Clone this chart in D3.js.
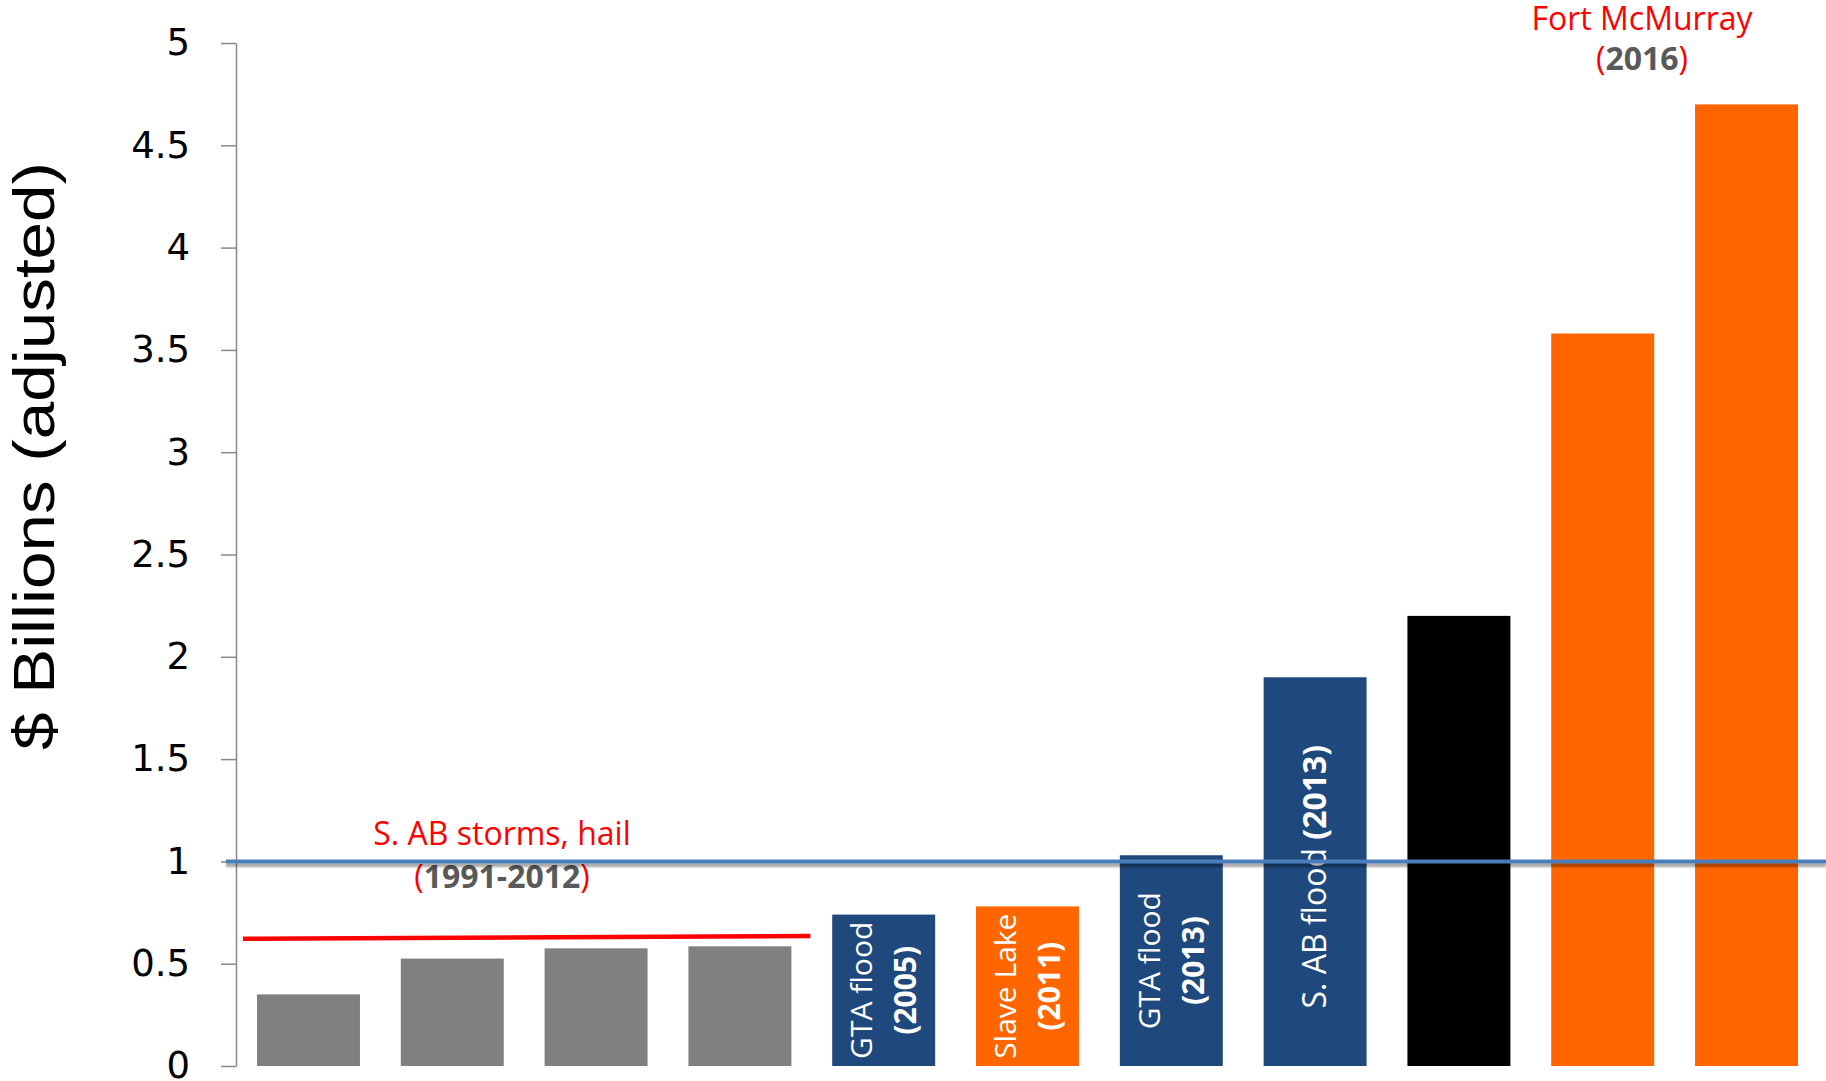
<!DOCTYPE html>
<html>
<head>
<meta charset="utf-8">
<script src="https://cdn.jsdelivr.net/npm/d3@7"></script>
<style>
  body { margin: 0; background: #fff; }
  svg { display: block; }
</style>
</head>
<body>
<div id="chart"></div>
<script>
const width = 1826;
const height = 1081;

// one bar per loss event, left to right
const categories = [
  "S. AB storms A", "S. AB storms B", "S. AB storms C", "S. AB storms D",
  "GTA flood 2005", "Slave Lake 2011", "GTA flood 2013", "S. AB flood 2013",
  "Other event", "Fort McMurray low", "Fort McMurray 2016"
];
const values = [0.35, 0.525, 0.575, 0.585, 0.74, 0.78, 1.03, 1.9, 2.2, 3.58, 4.7];
const barColors = [
  "#808080", "#808080", "#808080", "#808080",
  "#1f497d", "#ff6600", "#1f497d", "#1f497d",
  "#000000", "#ff6600", "#ff6600"
];
// [name, year] labels written up the bar
const barNames = ["", "", "", "", "GTA flood", "Slave Lake", "GTA flood", "S. AB flood ", "", "", ""];
const barYears = ["", "", "", "", "(2005)", "(2011)", "(2013)", "(2013)", "", "", ""];
const twoLine = [false, false, false, false, true, true, true, false, false, false, false];

const yTicks = [0, 0.5, 1, 1.5, 2, 2.5, 3, 3.5, 4, 4.5, 5];
const refValue = 1;              // blue $1B line
const stormLine = [0.622, 0.635]; // red average line over the hail bars

const margin = { left: 236, top: 43, bottom: 15 };

const svg = d3.select("#chart").append("svg")
  .attr("width", width)
  .attr("height", height);

const defs = svg.append("defs");
defs.append("filter").attr("id", "blur")
  .attr("filterUnits", "userSpaceOnUse")
  .attr("x", 0).attr("y", 0).attr("width", width).attr("height", height)
  .append("feGaussianBlur").attr("stdDeviation", 1.3);

const x = d3.scaleBand()
  .domain(categories)
  .range([margin.left, 1819])
  .paddingInner(0.284)
  .paddingOuter(0.146);

const y = d3.scaleLinear()
  .domain([0, 5])
  .range([height - margin.bottom, margin.top]);

// y axis
const yAxis = svg.append("g")
  .attr("transform", `translate(${margin.left},0)`)
  .call(d3.axisLeft(y).tickValues(yTicks).tickFormat(d3.format("")).tickSize(15).tickSizeOuter(0).tickPadding(31));
yAxis.select(".domain").attr("stroke", "#898989").attr("stroke-width", 1.5);
yAxis.selectAll(".tick line").attr("stroke", "#898989").attr("stroke-width", 1.5);
yAxis.selectAll(".tick text")
  .attr("fill", "#000")
  .style("font-family", "'DejaVu Sans', Verdana, sans-serif")
  .style("font-size", "37px");

svg.append("text")
  .attr("transform", "translate(54,456) rotate(-90)")
  .attr("text-anchor", "middle")
  .attr("textLength", 588)
  .attr("lengthAdjust", "spacingAndGlyphs")
  .style("font-family", "'Liberation Sans', Arial, sans-serif")
  .style("font-size", "58px")
  .attr("fill", "#000")
  .text("$ Billions (adjusted)");

// bars
svg.append("g").selectAll("rect")
  .data(values)
  .enter()
  .append("rect")
  .attr("x", (d, i) => x(categories[i]))
  .attr("y", d => y(d))
  .attr("width", x.bandwidth())
  .attr("height", d => y(0) - y(d))
  .attr("fill", (d, i) => barColors[i]);

// labels inside bars
const labelFont = "'Open Sans', 'Noto Sans', sans-serif";
values.forEach((v, i) => {
  if (!barNames[i]) return;
  const cx = x(categories[i]) + x.bandwidth() / 2;
  const cy = (y(v) + y(0)) / 2;
  const g = svg.append("g").attr("transform", `translate(${cx},${cy}) rotate(-90)`);
  if (twoLine[i]) {
    g.append("text")
      .attr("text-anchor", "middle").attr("y", -22).attr("dy", "0.35em")
      .attr("fill", "#fff")
      .style("font-family", labelFont).style("font-size", "30px")
      .text(barNames[i]);
    g.append("text")
      .attr("text-anchor", "middle").attr("y", 22).attr("dy", "0.35em")
      .attr("fill", "#fff")
      .style("font-family", labelFont).style("font-size", "30px").style("font-weight", "bold")
      .text(barYears[i]);
  } else {
    const t = g.append("text")
      .attr("text-anchor", "middle").attr("x", -5).attr("dy", "0.35em")
      .attr("fill", "#fff")
      .style("font-family", labelFont).style("font-size", "32px");
    t.append("tspan").text(barNames[i]);
    t.append("tspan").style("font-weight", "bold").text(barYears[i]);
  }
});

// red line over storm bars
const stormStart = x(categories[0]) - 14;
const stormEnd = x(categories[3]) + x.bandwidth() + 19;
svg.append("line")
  .attr("x1", stormStart).attr("y1", y(stormLine[0]))
  .attr("x2", stormEnd).attr("y2", y(stormLine[1]))
  .attr("stroke", "#ff0000")
  .attr("stroke-width", 4.5);

// annotations
function annotate(cx, y1, y2, title, year) {
  svg.append("text")
    .attr("x", cx).attr("y", y1)
    .attr("text-anchor", "middle")
    .attr("fill", "#ff0000")
    .style("font-family", labelFont).style("font-size", "32px")
    .text(title);
  const t = svg.append("text")
    .attr("x", cx).attr("y", y2)
    .attr("text-anchor", "middle")
    .style("font-family", labelFont).style("font-size", "32px");
  t.append("tspan").attr("fill", "#ff0000").text("(");
  t.append("tspan").attr("fill", "#595959").style("font-weight", "bold").text(year);
  t.append("tspan").attr("fill", "#ff0000").text(")");
}
annotate(502, 845, 888, "S. AB storms, hail", "1991-2012");
annotate(1642, 30, 70, "Fort McMurray", "2016");

// blue $1B reference line with soft shadow, drawn on top
svg.append("line")
  .attr("x1", 226).attr("x2", width)
  .attr("y1", y(refValue) + 3.5).attr("y2", y(refValue) + 3.5)
  .attr("stroke", "#000")
  .attr("stroke-opacity", 0.35)
  .attr("stroke-width", 4)
  .attr("filter", "url(#blur)");
svg.append("line")
  .attr("x1", 226).attr("x2", width)
  .attr("y1", y(refValue)).attr("y2", y(refValue))
  .attr("stroke", "#4a7ebb")
  .attr("stroke-width", 4);
</script>
</body>
</html>
